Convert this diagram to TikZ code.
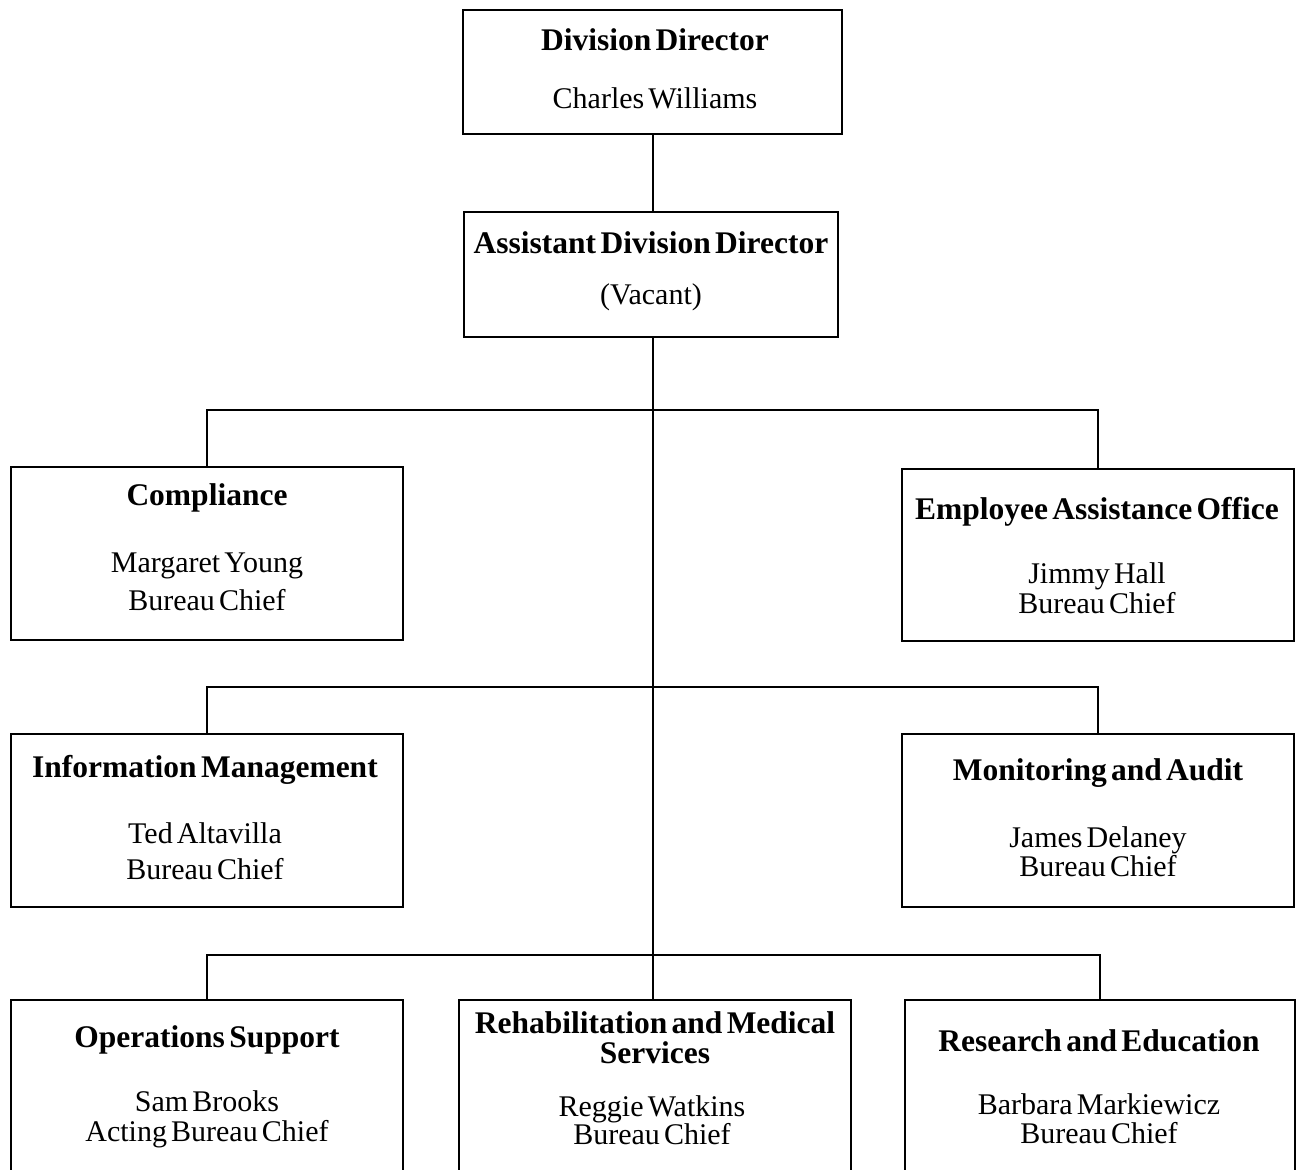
\documentclass[tikz,border=0pt]{standalone}
\usepackage{fontspec}
\setmainfont{Liberation Serif}[WordSpace=0.55]
\usetikzlibrary{positioning}
\definecolor{lineblack}{RGB}{0,0,0}

\begin{document}
\begin{tikzpicture}[
  x=1pt, y=-1pt,
  unit/.style={rectangle, draw=lineblack, line width=2.2pt, inner sep=0pt},
  head/.style={font=\fontsize{31.5}{30}\selectfont\bfseries, inner sep=0pt, align=center},
  who/.style={font=\fontsize{30}{30}\selectfont, inner sep=0pt, align=center},
  link/.style={draw=lineblack, line width=2.2pt}
]
\path[use as bounding box, clip] (0,0) rectangle (1299,1170);

% boxes
\node[unit, minimum width=379pt, minimum height=124pt] (dd) at (652.5,72) {};
\node[unit, minimum width=374pt, minimum height=125pt] (ad) at (651,274.5) {};
\node[unit, minimum width=392pt, minimum height=173pt] (cmp) at (207,553.5) {};
\node[unit, minimum width=392pt, minimum height=172pt] (eao) at (1098,555) {};
\node[unit, minimum width=392pt, minimum height=173pt] (inf) at (207,820.5) {};
\node[unit, minimum width=392pt, minimum height=173pt] (mon) at (1098,820.5) {};
\node[unit, minimum width=392pt, minimum height=190pt] (ops) at (207,1095) {};
\node[unit, minimum width=392pt, minimum height=190pt] (reh) at (655,1095) {};
\node[unit, minimum width=390pt, minimum height=190pt] (res) at (1100,1095) {};

% texts
\node[head] (ddh) at (655,40) {Division Director};
\node[who] (ddn) at (655,98) {Charles Williams};
\node[head] (adh) at (651,243) {Assistant Division Director};
\node[who] (adn) at (651,297) {(Vacant)};
\node[head] (cmph) at (207,498) {Compliance};
\node[who] (cmpn) at (207,582) {Margaret Young\\[8pt]Bureau Chief};
\node[head] (eaoh) at (1097,512) {Employee Assistance Office};
\node[who] (eaon) at (1097,588) {Jimmy Hall\\Bureau Chief};
\node[head] (infh) at (205,770) {Information Management};
\node[who] (infn) at (205,851) {Ted Altavilla\\[6pt]Bureau Chief};
\node[head] (monh) at (1098,773) {Monitoring and Audit};
\node[who] (monn) at (1098,852) {James Delaney\\[-1pt]Bureau Chief};
\node[head] (opsh) at (207,1040) {Operations Support};
\node[who] (opsn) at (207,1119) {Sam Brooks\\Acting Bureau Chief};
\node[head] (rehh) at (655,1038) {Rehabilitation and Medical\\Services};
\node[who] (rehn) at (652,1120) {Reggie Watkins\\[-2pt]Bureau Chief};
\node[head] (resh) at (1099,1041) {Research and Education};
\node[who] (resn) at (1099,1119) {Barbara Markiewicz\\[-1pt]Bureau Chief};

% connectors
\coordinate (j1) at (653,410);
\coordinate (j2) at (653,687);
\coordinate (j3) at (653,955);
\draw[link] (dd.south -| 653,0) -- (ad.north -| 653,0);
\draw[link] (ad.south -| 653,0) -- (reh.north -| 653,0);
\draw[link] (cmp.north) |- (j1) -| (eao.north);
\draw[link] (inf.north) |- (j2) -| (mon.north);
\draw[link] (ops.north) |- (j3) -| (res.north);
\end{tikzpicture}
\end{document}
